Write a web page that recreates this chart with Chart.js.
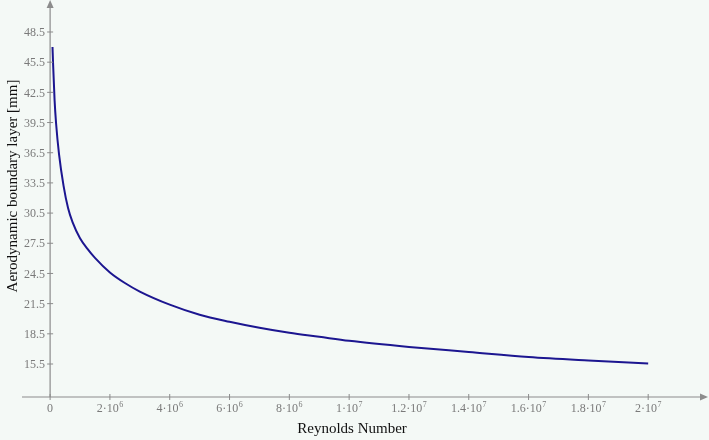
<!DOCTYPE html>
<html>
<head>
<meta charset="utf-8">
<script src="https://cdn.jsdelivr.net/npm/chart.js@4"></script>
<style>
  html, body { margin: 0; padding: 0; background: #f4f9f6; }
  #wrap { width: 709px; height: 440px; position: relative; }
</style>
</head>
<body>
<div id="wrap"><canvas id="chart"></canvas></div>
<script>
// Reynolds number vs boundary layer thickness
const reynolds = [0.08e6, 0.1e6, 0.15e6, 0.2e6, 0.3e6, 0.45e6, 0.6e6, 0.75e6, 1e6, 1.25e6, 1.5e6, 2e6, 2.5e6, 3e6,
  4e6, 5e6, 6e6, 7e6, 8e6, 9e6, 1e7, 1.2e7, 1.4e7, 1.6e7, 1.8e7, 2e7];
const thickness = [47.0, 45.3, 41.7, 39.4, 36.3, 33.2, 31.0, 29.6, 28.0, 26.95, 26.05, 24.6, 23.55, 22.7,
  21.4, 20.4, 19.7, 19.1, 18.6, 18.2, 17.8, 17.2, 16.7, 16.2, 15.85, 15.55];

const yTicks = [15.5, 18.5, 21.5, 24.5, 27.5, 30.5, 33.5, 36.5, 39.5, 42.5, 45.5, 48.5];
const xTicks = [0, 2e6, 4e6, 6e6, 8e6, 1e7, 1.2e7, 1.4e7, 1.6e7, 1.8e7, 2e7];
const xTickBase = ['0', '2·10', '4·10', '6·10', '8·10', '1·10', '1.2·10', '1.4·10', '1.6·10', '1.8·10', '2·10'];
const xTickExp = ['', '6', '6', '6', '6', '7', '7', '7', '7', '7', '7'];

const AXIS = '#8c8c8c';
const LABEL = '#7a7a7a';
const SERIF = '"Liberation Serif", "Times New Roman", serif';

// draws Mathcad-like axes crossing at the origin, using the chart's scales
const mathcadAxes = {
    id: 'mathcadAxes',
    afterDraw(chart) {
        const { ctx, chartArea: area, scales: { x, y } } = chart;
        const x0 = x.getPixelForValue(0);
        const yb = area.bottom;
        ctx.save();
        ctx.strokeStyle = AXIS;
        ctx.fillStyle = AXIS;
        ctx.lineWidth = 1.2;
        // axis lines
        ctx.beginPath();
        ctx.moveTo(area.left, yb); ctx.lineTo(area.right + 1, yb);
        ctx.moveTo(x0, yb); ctx.lineTo(x0, area.top + 4);
        ctx.stroke();
        // arrows
        ctx.beginPath();
        ctx.moveTo(area.right + 3, yb); ctx.lineTo(area.right - 5, yb - 3.5); ctx.lineTo(area.right - 5, yb + 3.5);
        ctx.closePath(); ctx.fill();
        ctx.beginPath();
        ctx.moveTo(x0, area.top); ctx.lineTo(x0 - 3.5, area.top + 8); ctx.lineTo(x0 + 3.5, area.top + 8);
        ctx.closePath(); ctx.fill();
        // y ticks
        ctx.lineWidth = 1;
        ctx.font = '12px ' + SERIF;
        ctx.textAlign = 'right';
        ctx.textBaseline = 'middle';
        yTicks.forEach(v => {
            const py = y.getPixelForValue(v);
            ctx.beginPath(); ctx.moveTo(x0 - 3, py); ctx.lineTo(x0 + 3, py); ctx.stroke();
            ctx.fillStyle = LABEL;
            ctx.fillText(v.toFixed(1), x0 - 5, py + 1);
        });
        // x ticks
        xTicks.forEach((v, i) => {
            const px = x.getPixelForValue(v);
            ctx.beginPath(); ctx.moveTo(px, yb - 3); ctx.lineTo(px, yb + 3); ctx.stroke();
            ctx.fillStyle = LABEL;
            ctx.font = '12px ' + SERIF;
            const bw = ctx.measureText(xTickBase[i]).width;
            ctx.font = '8px ' + SERIF;
            const ew = xTickExp[i] ? ctx.measureText(xTickExp[i]).width + 0.5 : 0;
            const start = px - (bw + ew) / 2;
            ctx.textAlign = 'left';
            ctx.textBaseline = 'alphabetic';
            ctx.font = '12px ' + SERIF;
            ctx.fillText(xTickBase[i], start, yb + 15);
            if (xTickExp[i]) {
                ctx.font = '8px ' + SERIF;
                ctx.fillText(xTickExp[i], start + bw + 0.5, yb + 10);
            }
        });
        // axis titles
        ctx.fillStyle = '#111';
        ctx.font = '15px ' + SERIF;
        ctx.textAlign = 'center';
        ctx.textBaseline = 'alphabetic';
        ctx.fillText('Reynolds Number', 352, 433);
        ctx.translate(17, 186);
        ctx.rotate(-Math.PI / 2);
        ctx.fillText('Aerodynamic boundary layer [mm]', 0, 0);
        ctx.restore();
    }
};

new Chart(document.getElementById('chart'), {
    type: 'line',
    data: {
        datasets: [{
            data: reynolds.map((r, i) => ({ x: r, y: thickness[i] })),
            borderColor: '#1c1690',
            borderWidth: 2,
            pointRadius: 0,
            cubicInterpolationMode: 'monotone',
            fill: false
        }]
    },
    options: {
        responsive: true, maintainAspectRatio: false, animation: false,
        layout: { padding: { left: 22, right: 4, top: 0, bottom: 43 } },
        scales: {
            x: { type: 'linear', min: -0.94e6, max: 21.9e6, display: false },
            y: { type: 'linear', min: 12.22, max: 51.68, display: false }
        },
        plugins: { legend: { display: false }, tooltip: { enabled: false } }
    },
    plugins: [mathcadAxes]
});
</script>
</body>
</html>
